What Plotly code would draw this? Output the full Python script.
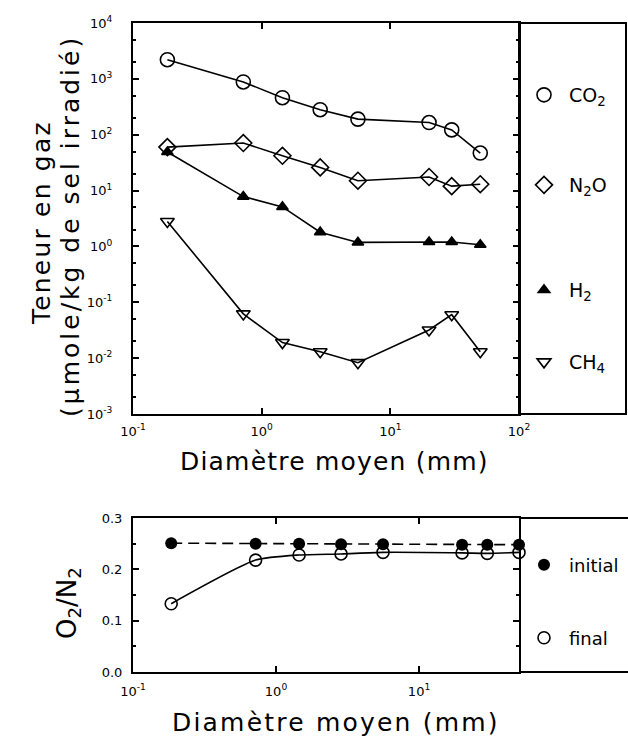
import plotly.graph_objects as go
import math

# ---------------- data ----------------
diam = [0.185, 0.72, 1.45, 2.85, 5.6, 20, 30, 50]
co2 = [2200, 880, 460, 280, 190, 165, 122, 47]
n2o = [60, 71, 42, 26, 15, 17.5, 12, 13]
h2 = [49, 7.8, 5.1, 1.8, 1.18, 1.2, 1.2, 1.07]
ch4 = [2.8, 0.062, 0.019, 0.013, 0.0083, 0.032, 0.060, 0.013]

o2n2_initial = [0.251, 0.250, 0.250, 0.249, 0.249, 0.248, 0.248, 0.248]
o2n2_final = [0.133, 0.218, 0.228, 0.230, 0.233, 0.232, 0.231, 0.233]

top_exp = [-3, -2, -1, 0, 1, 2, 3, 4]
top_ylabels = ["10<sup>%d</sup>" % e for e in top_exp]
x_exp = [-1, 0, 1, 2]
x_labels = ["10<sup>%d</sup>" % e for e in x_exp]
bot_yvals = [0.0, 0.1, 0.2, 0.3]

FONT = "DejaVu Sans"
W, H = 628, 740


def px(x):
    return x / W


def py(y):
    return 1 - y / H


def spaced(txt, ls):
    return '<span style="letter-spacing:%.1fpx">%s</span>' % (ls, txt)


fig = go.Figure()

series = [
    ("CO<sub>2</sub>", co2, "circle-open", 14, "legend"),
    ("N<sub>2</sub>O", n2o, "diamond-open", 13, "legend2"),
    ("H<sub>2</sub>", h2, "triangle-up", 10, "legend3"),
    ("CH<sub>4</sub>", ch4, "triangle-down-open", 12, "legend4"),
]
for name, vals, sym, size, lg in series:
    fig.add_trace(go.Scatter(
        x=diam, y=vals, mode="lines+markers", showlegend=False,
        line=dict(color="black", width=1.6),
        marker=dict(symbol=sym, size=size, color="black",
                    line=dict(color="black", width=1.6)),
        xaxis="x", yaxis="y", cliponaxis=False))
    fig.add_trace(go.Scatter(
        x=[None], y=[None], mode="markers", name=name, legend=lg,
        marker=dict(symbol=sym, size=size, color="black",
                    line=dict(color="black", width=1.6)),
        xaxis="x", yaxis="y"))

fig.add_trace(go.Scatter(
    x=diam, y=o2n2_initial, mode="lines+markers", showlegend=False,
    line=dict(color="black", width=1.6, dash="11px,6px"),
    marker=dict(symbol="circle", size=12, color="black"),
    xaxis="x2", yaxis="y2", cliponaxis=False))
fig.add_trace(go.Scatter(
    x=diam, y=o2n2_final, mode="lines+markers", showlegend=False,
    line=dict(color="black", width=1.6, shape="spline", smoothing=0.6),
    marker=dict(symbol="circle-open", size=12, color="black",
                line=dict(color="black", width=1.6)),
    xaxis="x2", yaxis="y2", cliponaxis=False))
fig.add_trace(go.Scatter(
    x=[None], y=[None], mode="markers", name="initial", legend="legend5",
    marker=dict(symbol="circle", size=12, color="black"),
    xaxis="x2", yaxis="y2"))
fig.add_trace(go.Scatter(
    x=[None], y=[None], mode="markers", name="final", legend="legend6",
    marker=dict(symbol="circle-open", size=12, color="black",
                line=dict(color="black", width=1.6)),
    xaxis="x2", yaxis="y2"))

xdom = [px(133), px(519)]
axis_common = dict(showline=True, linecolor="black", linewidth=2,
                   mirror="allticks", ticks="inside", tickcolor="black",
                   showgrid=False, zeroline=False,
                   tickfont=dict(family=FONT, size=13, color="black"))


def legend_at(ycenter, size=19):
    return dict(x=px(519), y=py(ycenter), xanchor="left", yanchor="middle",
                bgcolor="rgba(0,0,0,0)", borderwidth=0, itemwidth=40,
                font=dict(family=FONT, size=size, color="black"),
                itemsizing="trace")


def ann(text, x, y, size, angle=0):
    return dict(text=text, x=px(x), y=py(y), xref="paper", yref="paper",
                showarrow=False, textangle=angle, xanchor="center",
                yanchor="middle",
                font=dict(family=FONT, size=size, color="black"))


fig.update_layout(
    width=W, height=H,
    margin=dict(l=0, r=0, t=0, b=0, pad=0, autoexpand=False),
    paper_bgcolor="white", plot_bgcolor="white",
    font=dict(family=FONT, color="black"),
    xaxis=dict(domain=xdom, type="log", range=[-1, 2], anchor="y",
               tickvals=[10 ** e for e in x_exp], ticktext=x_labels,
               ticklen=6, tickwidth=1.5, ticklabelstandoff=4,
               **axis_common),
    yaxis=dict(domain=[py(414), py(23)], type="log", range=[-3, 4], anchor="x",
               tickvals=[10 ** e for e in top_exp], ticktext=top_ylabels,
               ticklen=6, tickwidth=1.5, ticklabelstandoff=16,
               minor=dict(ticks="inside", ticklen=3, tickcolor="black"),
               **axis_common),
    xaxis2=dict(domain=xdom, type="log", range=[-1, math.log10(50)], anchor="y2",
                tickvals=[10 ** e for e in x_exp[:3]], ticktext=x_labels[:3],
                ticklen=6, tickwidth=1.5, ticklabelstandoff=6,
                **axis_common),
    yaxis2=dict(domain=[py(672), py(518)], range=[0, 0.3], anchor="x2",
                tickvals=bot_yvals, tickformat=".1f",
                ticklen=6, tickwidth=1.5, ticklabelstandoff=6,
                minor=dict(ticks="inside", ticklen=3, dtick=0.05, tickcolor="black"),
                **axis_common),
    legend=legend_at(95),
    legend2=legend_at(185),
    legend3=legend_at(290),
    legend4=legend_at(362),
    legend5=legend_at(565, 18),
    legend6=legend_at(638, 18),
    annotations=[
        ann(spaced("Teneur en gaz", 2.2), 42, 223, 25, -90),
        ann(spaced("(μmole/kg de sel irradié)", 3), 70, 226, 25, -90),
        ann(spaced("Diamètre moyen (mm)", 1.2), 334, 461, 25),
        ann(spaced("Diamètre moyen (mm)", 2.2), 336, 722, 25),
        ann("O<sub>2</sub>/N<sub>2</sub>", 68, 603, 26, -90),
    ],
    shapes=[
        dict(type="rect", xref="paper", yref="paper",
             x0=px(519), x1=px(626), y0=py(414), y1=py(23),
             line=dict(color="black", width=2)),
        dict(type="line", xref="paper", yref="paper",
             x0=px(519), x1=1, y0=py(518), y1=py(518),
             line=dict(color="black", width=2)),
        dict(type="line", xref="paper", yref="paper",
             x0=px(519), x1=1, y0=py(672), y1=py(672),
             line=dict(color="black", width=2)),
    ],
)

fig.write_html("out.html",
               config={"displayModeBar": False},
               post_script="document.body.style.margin='0';"
                           "document.body.style.padding='0';")
